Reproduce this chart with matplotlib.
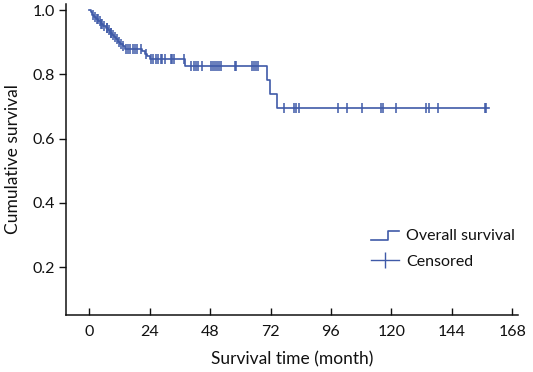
import matplotlib
matplotlib.use("Agg")
import matplotlib.pyplot as plt
import numpy as np
from matplotlib.lines import Line2D
from matplotlib.legend_handler import HandlerBase

# Kaplan-Meier steps (month, survival after drop)
event_times = [0.5, 1.2, 2.0, 2.8, 3.6, 4.5, 5.5, 6.5, 7.3, 8.0, 9.0, 9.8,
               10.6, 11.5, 12.3, 13.2, 14.0, 21.0, 22.0, 23.0, 24.0,
               38.0, 70.5, 71.7, 74.6]
event_surv = [0.993, 0.986, 0.979, 0.972, 0.965, 0.958, 0.951, 0.944, 0.937,
              0.930, 0.923, 0.916, 0.909, 0.902, 0.895, 0.888, 0.879,
              0.872, 0.864, 0.856, 0.848, 0.826, 0.782, 0.739, 0.694]
last_time = 158.8

censor_times = [1.5, 2.4, 3.1, 3.3, 4.1, 4.8, 5.2, 6.0, 6.8, 7.0, 7.7, 8.4,
                8.7, 9.4, 10.2, 11.0, 11.8, 12.6, 13.5, 14.5, 15.2, 16.0,
                17.5, 18.3, 19.0, 20.5, 22.5, 24.5, 25.3, 26.5, 27.3, 28.5,
                28.9, 30.1, 32.5, 32.9, 33.7, 37.4, 40.5, 41.5, 42.4, 43.2,
                44.8, 48.4, 49.2, 50.0, 50.7, 51.5, 52.3, 57.7, 58.3, 64.6,
                65.4, 66.2, 67.0, 77.5, 81.5, 82.1, 83.4, 98.8, 102.3, 108.2,
                115.9, 116.8, 121.9, 133.8, 134.8, 138.7, 157.2, 157.6]

x_ticks = [0, 24, 48, 72, 96, 120, 144, 168]
y_ticks = [0.2, 0.4, 0.6, 0.8, 1.0]

BLUE = '#3f5aa8'
INK = '#111111'
plt.rcParams['font.family'] = ['Lato', 'DejaVu Sans']


class StepHandler(HandlerBase):
    """Legend key drawn as a small step."""
    def create_artists(self, legend, orig_handle, xdescent, ydescent,
                       width, height, fontsize, trans):
        x0, y0 = -xdescent, -ydescent
        xs = [x0, x0 + width * 0.6, x0 + width * 0.6, x0 + width]
        ys = [y0 + height * 0.05, y0 + height * 0.05, y0 + height * 0.85, y0 + height * 0.85]
        return [Line2D(xs, ys, color=BLUE, lw=1.2, transform=trans)]


fig = plt.figure(figsize=(5.33, 3.72), dpi=100)
ax = fig.add_axes([0.1238, 0.153, 0.848, 0.837])

t = np.array([0.0] + event_times + [last_time])
s = np.array([1.0] + event_surv + [event_surv[-1]])
step_line, = ax.step(t, s, where='post', color=BLUE, lw=1.2)

# censored marks sit on the curve
ct = np.array(censor_times)
cs = s[np.searchsorted(t, ct, side='right') - 1]
ax.plot(ct, cs, ls='none', marker='|', ms=6.5, mew=1.1, color=BLUE)

ax.set_xlim(-9.3, 170.3)
ax.set_ylim(0.051, 1.02)
ax.set_xticks(x_ticks)
ax.set_yticks(y_ticks)
ax.set_yticklabels([f'{v:.1f}' for v in y_ticks])
for side in ['top', 'right']:
    ax.spines[side].set_visible(False)
for side in ['left', 'bottom']:
    ax.spines[side].set_linewidth(1.1)
    ax.spines[side].set_color(INK)
ax.tick_params(axis='x', direction='in', length=5, width=1.0, pad=7,
               labelsize=11.5, colors=INK)
ax.tick_params(axis='y', direction='out', length=5, width=1.0, pad=3,
               labelsize=11.5, colors=INK)
ax.set_xlabel('Survival time (month)', fontsize=12.5, color=INK, labelpad=9)
ax.set_ylabel('Cumulative survival', fontsize=12.5, color=INK, labelpad=8)

censor_key = Line2D([], [], color=BLUE, lw=1.0, marker='|', ms=12, mew=1.0)
leg = ax.legend([step_line, censor_key], ['Overall survival', 'Censored'],
                handler_map={step_line: StepHandler()},
                loc='upper left', bbox_to_anchor=(371 / 533, 1 - 229 / 372),
                bbox_transform=fig.transFigure, frameon=False, fontsize=11.5,
                handlelength=1.75, handletextpad=0.45, labelspacing=0.72,
                borderpad=0, borderaxespad=0, numpoints=1)
for txt in leg.get_texts():
    txt.set_color(INK)

fig.savefig('out.png', dpi=100)
